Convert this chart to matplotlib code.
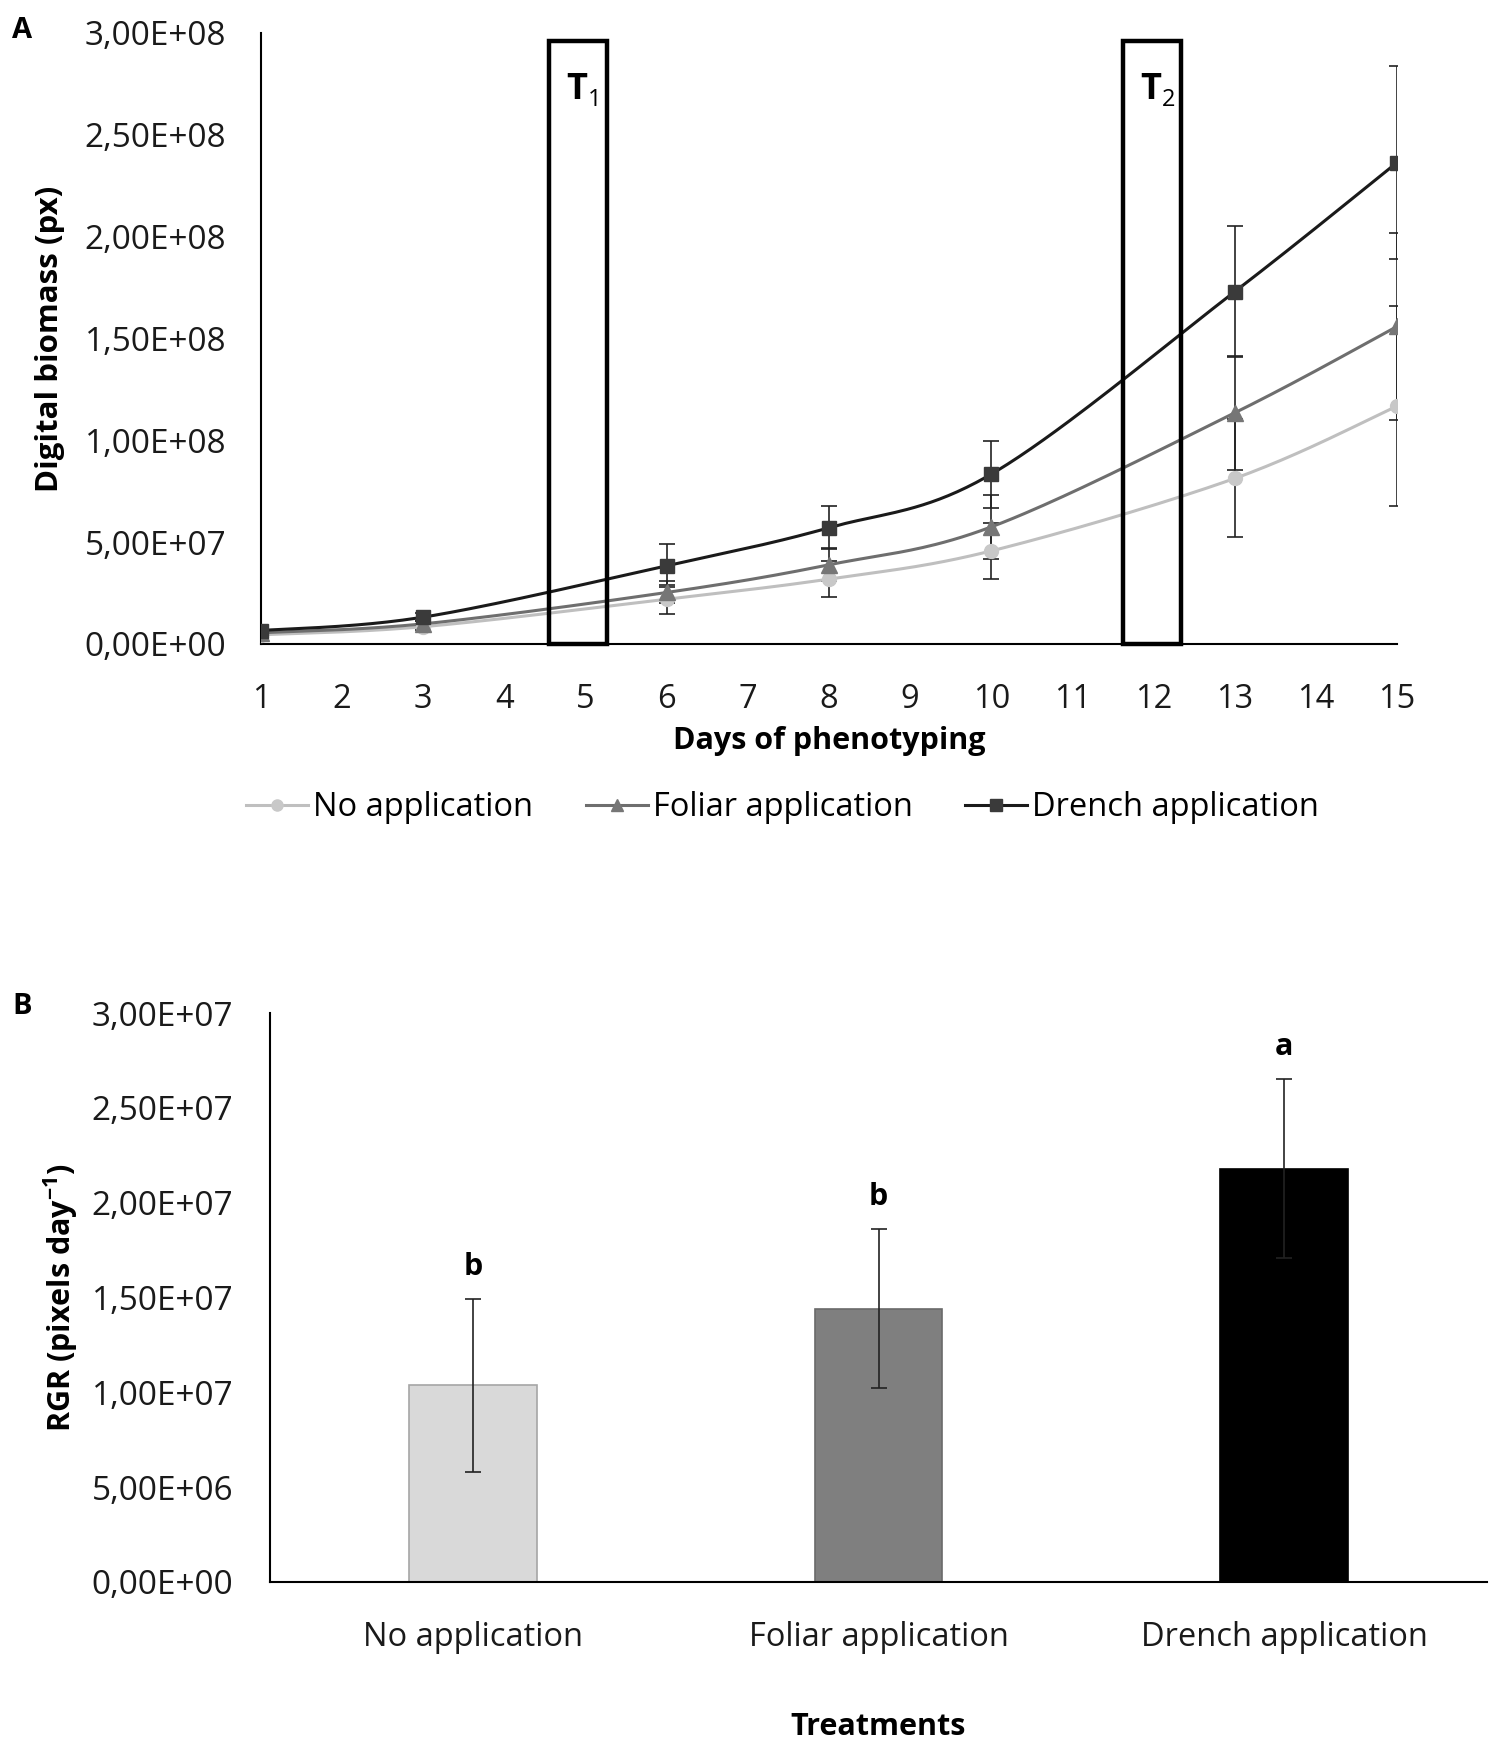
import numpy as np
import matplotlib
matplotlib.use("Agg")
import matplotlib.pyplot as plt
from matplotlib.patches import Rectangle

plt.rcParams['font.family'] = ['Open Sans', 'DejaVu Sans']

# ---------------- data ----------------
days = [1, 3, 6, 8, 10, 13, 15]
no_app = [4.5e6, 8.5e6, 22.0e6, 31.9e6, 45.7e6, 81.3e6, 116.8e6]
no_err = [1.0e6, 1.5e6, 7.2e6, 8.8e6, 13.8e6, 29.0e6, 49.2e6]
foliar = [5.5e6, 9.9e6, 25.3e6, 38.9e6, 57.5e6, 113.5e6, 155.9e6]
foliar_err = [1.0e6, 1.5e6, 5.4e6, 8.0e6, 15.6e6, 28.0e6, 46.0e6]
drench = [6.6e6, 13.2e6, 38.4e6, 57.1e6, 83.4e6, 173.0e6, 236.4e6]
drench_err = [1.0e6, 2.0e6, 10.6e6, 10.5e6, 16.5e6, 32.0e6, 47.2e6]
series_names = ['No application', 'Foliar application', 'Drench application']
x_ticks_a = list(range(1, 16))
y_ticks_a = [0, 5e7, 1e8, 1.5e8, 2e8, 2.5e8, 3e8]
y_ticklabels_a = ['0,00E+00', '5,00E+07', '1,00E+08', '1,50E+08', '2,00E+08', '2,50E+08', '3,00E+08']
t_windows = [(4.55, 5.27, 'T', '1'), (11.62, 12.34, 'T', '2')]
t_top = 2.96e8

treatments = ['No application', 'Foliar application', 'Drench application']
rgr = [10.37e6, 14.41e6, 21.8e6]
rgr_err = [4.57e6, 4.2e6, 4.7e6]
letters = ['b', 'b', 'a']
y_ticks_b = [0, 5e6, 1e7, 1.5e7, 2e7, 2.5e7, 3e7]
y_ticklabels_b = ['0,00E+00', '5,00E+06', '1,00E+07', '1,50E+07', '2,00E+07', '2,50E+07', '3,00E+07']


def smooth(xs, ys, n=40):
    """Excel-style smoothed line: cubic Bezier segments through the points."""
    P = np.column_stack([xs, ys]).astype(float)
    out = []
    m = len(P)
    for i in range(m - 1):
        p0 = P[i - 1] if i > 0 else P[i]
        p1 = P[i]
        p2 = P[i + 1]
        p3 = P[i + 2] if i + 2 < m else P[i + 1]
        c1 = p1 + (p2 - p0) / 6.0
        c2 = p2 - (p3 - p1) / 6.0
        t = np.linspace(0, 1, n)[:, None]
        seg = ((1 - t) ** 3) * p1 + 3 * ((1 - t) ** 2) * t * c1 + 3 * (1 - t) * t ** 2 * c2 + t ** 3 * p2
        out.append(seg if i == 0 else seg[1:])
    s = np.vstack(out)
    return s[:, 0], s[:, 1]


W, H = 1500, 1743
fig = plt.figure(figsize=(W / 100, H / 100), dpi=100)

# ---------------- Panel A ----------------
axA = fig.add_axes([261 / W, 1 - 644 / H, (1397 - 261) / W, (644 - 33) / H])
styles = [
    dict(color='#bfbfbf', mfc='#c8c8c8', mec='#c8c8c8', marker='o', ms=10, lw=2.2),
    dict(color='#6e6e6e', mfc='#767676', mec='#767676', marker='^', ms=11, lw=2.2),
    dict(color='#1a1a1a', mfc='#3a3a3a', mec='#3a3a3a', marker='s', ms=10, lw=2.2),
]
handles = []
for vals, errs, st, name in zip([no_app, foliar, drench], [no_err, foliar_err, drench_err], styles, series_names):
    sx, sy = smooth(days, vals)
    axA.plot(sx, sy, color=st['color'], lw=st['lw'], zorder=3, solid_capstyle='round')
    axA.errorbar(days, vals, yerr=errs, fmt='none', ecolor='#222222', elinewidth=1.2,
                 capsize=6, capthick=1.2, zorder=2)
    axA.plot(days, vals, linestyle='none', marker=st['marker'], ms=st['ms'],
             mfc=st['mfc'], mec=st['mec'], zorder=4)
    h, = axA.plot([], [], color=st['color'], lw=st['lw'], marker=st['marker'], ms=st['ms'] * 0.8,
                  mfc=st['mfc'], mec=st['mec'])
    handles.append(h)

for x0, x1, t, sub in t_windows:
    axA.add_patch(Rectangle((x0, 0), x1 - x0, t_top, fill=False, ec='black', lw=3.2, zorder=5,
                            clip_on=False))
    xm = (x0 + x1) / 2
    axA.text(xm - 0.02, 2.72e8, t, fontsize=26, fontweight='bold', ha='center', va='center', zorder=6)
    axA.text(xm + 0.2, 2.67e8, sub, fontsize=17, ha='center', va='center', zorder=6)

axA.set_xlim(1, 15)
axA.set_ylim(0, 3e8)
axA.set_xticks(x_ticks_a)
axA.set_xticklabels([str(v) for v in x_ticks_a])
axA.set_yticks(y_ticks_a)
axA.set_yticklabels(y_ticklabels_a)
for s in ['top', 'right']:
    axA.spines[s].set_visible(False)
axA.spines['left'].set_linewidth(1.5)
axA.spines['bottom'].set_linewidth(1.5)
axA.tick_params(axis='y', length=0, labelsize=24, pad=25, colors='#1a1a1a')
axA.tick_params(axis='x', length=0, labelsize=23.5, pad=28, colors='#1a1a1a')
axA.set_xlabel('Days of phenotyping', fontsize=22, fontweight='bold', labelpad=7)
axA.set_ylabel('Digital biomass (px)', fontsize=22.5, fontweight='bold', labelpad=14)
axA.legend(handles, series_names, loc='center', bbox_to_anchor=(0.459, -0.268), ncol=3,
           frameon=False, fontsize=23.5, handlelength=1.9, handletextpad=0.15, columnspacing=1.6)
fig.text(12 / W, 1 - 31 / H, 'A', fontsize=21, fontweight='bold', va='center', ha='left')

# ---------------- Panel B ----------------
axB = fig.add_axes([270 / W, 1 - 1582 / H, (1487 - 270) / W, (1582 - 1013) / H])
bar_colors = ['#d9d9d9', '#7f7f7f', '#000000']
bar_edges = ['#a6a6a6', '#6a6a6a', '#000000']
xpos = np.arange(len(treatments))
axB.bar(xpos, rgr, width=0.315, color=bar_colors, edgecolor=bar_edges, linewidth=1.2, zorder=2)
axB.errorbar(xpos, rgr, yerr=rgr_err, fmt='none', ecolor='#222222', elinewidth=1.2,
             capsize=6, capthick=1.2, zorder=3)
for xp, v, e, lt in zip(xpos, rgr, rgr_err, letters):
    axB.text(xp, v + e + 0.9e6, lt, fontsize=22, fontweight='bold', ha='center', va='bottom')
axB.set_xlim(-0.5, 2.5)
axB.set_ylim(0, 3e7)
axB.set_xticks(xpos)
axB.set_xticklabels(treatments)
axB.set_yticks(y_ticks_b)
axB.set_yticklabels(y_ticklabels_b)
for s in ['top', 'right']:
    axB.spines[s].set_visible(False)
axB.spines['left'].set_linewidth(1.5)
axB.spines['bottom'].set_linewidth(1.5)
axB.tick_params(axis='y', length=0, labelsize=24, pad=26.5, colors='#1a1a1a')
axB.tick_params(axis='x', length=0, labelsize=23.5, pad=28, colors='#1a1a1a')
axB.set_xlabel('Treatments', fontsize=22, fontweight='bold', labelpad=42)
axB.set_ylabel('RGR (pixels day$^{\\mathregular{-1}}$)', fontsize=22, fontweight='bold', labelpad=8)
fig.text(12 / W, 1 - 1007 / H, 'B', fontsize=21, fontweight='bold', va='center', ha='left')

fig.savefig('out.png', dpi=100, facecolor='white')
